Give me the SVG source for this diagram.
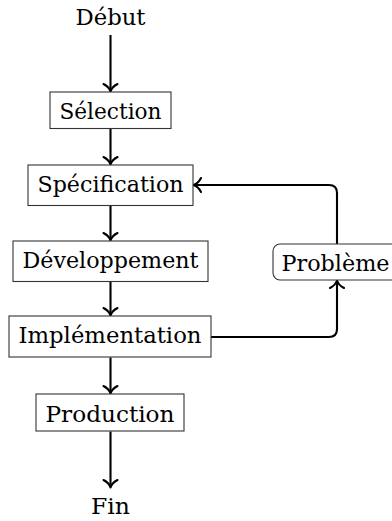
<svg xmlns="http://www.w3.org/2000/svg" width="392" height="521" viewBox="0 0 392 521">
<defs>
<style>
.box{fill:#fff;stroke:#333;stroke-width:1.1}
.c{fill:none;stroke:#000;stroke-width:2.1}
</style>
<marker id="ah" markerUnits="userSpaceOnUse" viewBox="-9 -9 12 18" markerWidth="12" markerHeight="18" refX="0" refY="0" orient="auto">
<path d="M -7,-7 C -5,-3 -2,-0.8 0.5,0 C -2,0.8 -5,3 -7,7" fill="none" stroke="#000" stroke-width="2.1" stroke-linecap="round" stroke-linejoin="round"/>
</marker>
</defs>
<rect width="392" height="521" fill="#fff"/>
<g id="connectors">
<path class="c" d="M110.5,35 V91" marker-end="url(#ah)"/>
<path class="c" d="M110.5,128.5 V164" marker-end="url(#ah)"/>
<path class="c" d="M110.5,205.5 V240" marker-end="url(#ah)"/>
<path class="c" d="M110.5,281.5 V315" marker-end="url(#ah)"/>
<path class="c" d="M110.5,357.5 V393" marker-end="url(#ah)"/>
<path class="c" d="M110.5,431.5 V487" marker-end="url(#ah)"/>
<path class="c" d="M211,337 H329 Q337,337 337,329 V281" marker-end="url(#ah)"/>
<path class="c" d="M337,244 V193 Q337,185 329,185 H194" marker-end="url(#ah)"/>
</g>
<g font-family="DejaVu Serif, serif" font-size="23" text-anchor="middle" fill="#000">
<g id="debut"><text x="110.5" y="25" textLength="70" lengthAdjust="spacingAndGlyphs">Début</text></g>
<g id="selection"><rect class="box" x="50" y="92" width="121" height="36.5"/><text x="110.5" y="118.5" textLength="102" lengthAdjust="spacingAndGlyphs">Sélection</text></g>
<g id="specification"><rect class="box" x="28" y="165" width="165" height="40.5"/><text x="110.5" y="191.5" textLength="146" lengthAdjust="spacingAndGlyphs">Spécification</text></g>
<g id="developpement"><rect class="box" x="13" y="241" width="195" height="40.5"/><text x="110.5" y="267.5" textLength="176" lengthAdjust="spacingAndGlyphs">Développement</text></g>
<g id="implementation"><rect class="box" x="9" y="316" width="202" height="41"/><text x="110" y="343" textLength="183" lengthAdjust="spacingAndGlyphs">Implémentation</text></g>
<g id="production"><rect class="box" x="36" y="394" width="148" height="37"/><text x="110" y="421.5" textLength="129" lengthAdjust="spacingAndGlyphs">Production</text></g>
<g id="probleme"><rect class="box" x="273" y="244" width="125" height="36" rx="7" ry="7"/><text x="335.5" y="270.5" textLength="108" lengthAdjust="spacingAndGlyphs">Problème</text></g>
<g id="fin"><text x="110.5" y="513.5" textLength="39" lengthAdjust="spacingAndGlyphs">Fin</text></g>
</g>
</svg>
